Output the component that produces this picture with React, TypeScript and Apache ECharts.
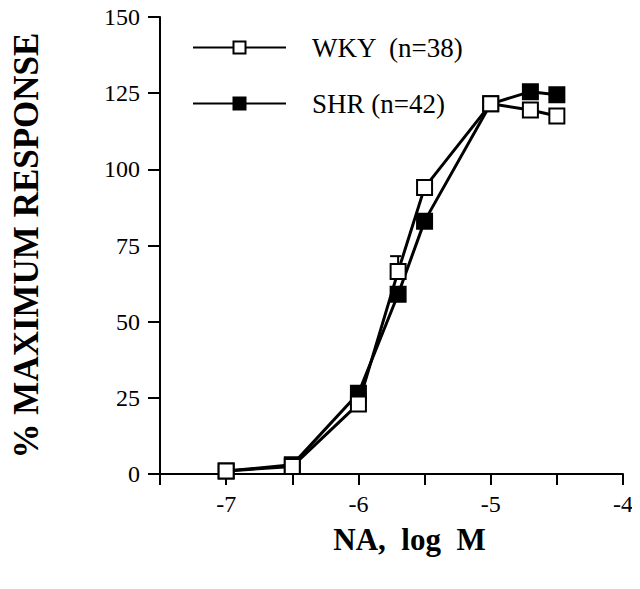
import React, { useEffect, useRef } from "react";
import * as echarts from "echarts";

const doses = [-7, -6.5, -6, -5.7, -5.5, -5, -4.7, -4.5];
const wkyValues = [1, 2.5, 23, 66.5, 94, 121.5, 119.5, 117.5];
const shrValues = [1, 3, 26.5, 59, 83, 121.5, 125.5, 124.5];
const wkyErrors = [0, 0, 0, 5, 0, 0, 0, 0];
const xTickLabels = [-7, -6, -5, -4];
const seriesNames = ["SHR (n=42)", "WKY  (n=38)"];

const FONT = "Liberation Serif, Times New Roman, serif";

export default function App() {
  const ref = useRef<HTMLDivElement>(null);
  useEffect(() => {
    if (!ref.current) return;
    const chart = echarts.init(ref.current, null, { renderer: "svg" });
    const wkyData = doses.map((d, i) => [d, wkyValues[i]]);
    const shrData = doses.map((d, i) => [d, shrValues[i]]);
    const errData = doses
      .map((d, i) => [d, wkyValues[i], wkyValues[i] + wkyErrors[i]])
      .filter((_, i) => wkyErrors[i] > 0);
    chart.setOption({
      animation: false,
      backgroundColor: "#fff",
      grid: { left: 160, top: 17, right: 17, bottom: 115 },
      legend: {
        orient: "vertical",
        left: 187,
        top: 29,
        itemWidth: 93,
        itemHeight: 15,
        itemGap: 29,
        data: [seriesNames[1], seriesNames[0]],
        textStyle: { fontFamily: FONT, fontSize: 27, color: "#000", padding: [0, 0, 0, 21] },
      },
      xAxis: {
        type: "value",
        min: -7.5,
        max: -4,
        interval: 0.5,
        name: "NA,  log  M",
        nameLocation: "middle",
        nameGap: 50,
        nameTextStyle: {
          fontFamily: FONT,
          fontSize: 31,
          fontWeight: "bold",
          color: "#000",
          padding: [0, 0, 0, 36],
        },
        axisLine: { onZero: false, lineStyle: { color: "#000", width: 2 } },
        axisTick: { length: 11, lineStyle: { color: "#000", width: 2 } },
        splitLine: { show: false },
        axisLabel: {
          fontFamily: FONT,
          fontSize: 24,
          color: "#000",
          margin: 18,
          formatter: (v: number) => (xTickLabels.includes(v) ? String(v) : ""),
        },
      },
      yAxis: {
        type: "value",
        min: 0,
        max: 150,
        interval: 25,
        name: "% MAXIMUM RESPONSE",
        nameLocation: "middle",
        nameGap: 116,
        nameTextStyle: { fontFamily: FONT, fontSize: 35, fontWeight: "bold", color: "#000" },
        axisLine: { show: true, lineStyle: { color: "#000", width: 2 } },
        axisTick: { show: true, length: 12, lineStyle: { color: "#000", width: 2 } },
        splitLine: { show: false },
        axisLabel: { fontFamily: FONT, fontSize: 24, color: "#000", margin: 20 },
      },
      series: [
        {
          type: "custom",
          name: "err",
          z: 1,
          data: errData,
          renderItem: (params: any, api: any) => {
            const x = api.value(0);
            const lo = api.coord([x, api.value(1)]);
            const hi = api.coord([x, api.value(2)]);
            return {
              type: "group",
              children: [
                { type: "line", shape: { x1: lo[0], y1: lo[1], x2: hi[0], y2: hi[1] }, style: { stroke: "#000", lineWidth: 2 } },
                { type: "line", shape: { x1: hi[0] - 8, y1: hi[1], x2: hi[0] + 3, y2: hi[1] }, style: { stroke: "#000", lineWidth: 2 } },
              ],
            };
          },
        },
        {
          type: "line",
          name: seriesNames[0],
          data: shrData,
          symbol: "rect",
          symbolSize: 15,
          z: 2,
          lineStyle: { color: "#000", width: 3 },
          itemStyle: { color: "#000", borderColor: "#000", borderWidth: 2 },
        },
        {
          type: "line",
          name: seriesNames[1],
          data: wkyData,
          symbol: "rect",
          symbolSize: 15,
          z: 3,
          lineStyle: { color: "#000", width: 3 },
          itemStyle: { color: "#fff", borderColor: "#000", borderWidth: 2 },
        },
      ],
    });
    return () => chart.dispose();
  }, []);
  return <div ref={ref} style={{ width: 640, height: 589, margin: -8 }} />;
}
